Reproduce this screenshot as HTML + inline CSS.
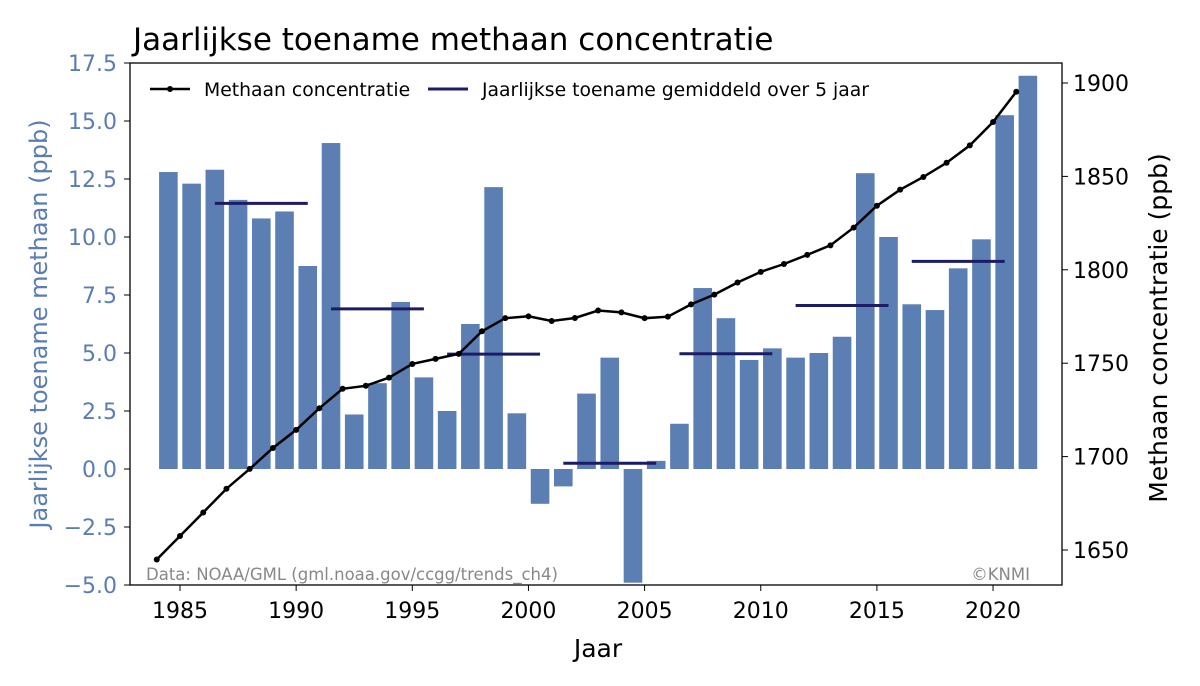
<!DOCTYPE html>
<html><head><meta charset="utf-8">
<style>
html,body{margin:0;padding:0;background:#fff;}
svg{display:block;font-family:"DejaVu Sans","Liberation Sans",sans-serif;}
</style></head>
<body>
<svg id="c" width="1200" height="686" viewBox="0 0 1200 686" xmlns="http://www.w3.org/2000/svg">
<rect width="1200" height="686" fill="#fff"/>
<text x="133" y="50" font-size="31" fill="#000">Jaarlijkse toename methaan concentratie</text>
<g id="g"></g>
<rect x="130" y="63" width="932" height="522" fill="none" stroke="#000" stroke-width="1.3"/>
<text x="146" y="580" font-size="16.5" fill="#888">Data: NOAA/GML (gml.noaa.gov/ccgg/trends_ch4)</text>
<text x="1030" y="580" font-size="16.5" fill="#888" text-anchor="end">©KNMI</text>
<text x="598" y="657" font-size="25" text-anchor="middle">Jaar</text>
<text transform="translate(47,324) rotate(-90)" font-size="24" fill="#5a7db3" text-anchor="middle">Jaarlijkse toename methaan (ppb)</text>
<text transform="translate(1167,328) rotate(-90)" font-size="25" text-anchor="middle">Methaan concentratie (ppb)</text>
<line x1="150" y1="89" x2="190" y2="89" stroke="#000" stroke-width="2.5"/>
<circle cx="170" cy="89" r="3" fill="#000"/>
<text x="204" y="96" font-size="18.8">Methaan concentratie</text>
<line x1="428" y1="89" x2="468" y2="89" stroke="#1c1c66" stroke-width="3"/>
<text x="482" y="96" font-size="18.8">Jaarlijkse toename gemiddeld over 5 jaar</text>
</svg>
<script>
var g=document.getElementById('g'),s='';
function X(yr){return 180+(yr-1985)*23.23;}
function YL(v){return 469-v*23.2;}
function YR(v){return 550-(v-1650)*1.868;}
var bars=[12.8,12.3,12.9,11.6,10.8,11.1,8.75,14.05,2.35,3.7,7.2,3.95,2.5,6.25,12.15,2.4,-1.5,-0.75,3.25,4.8,-4.9,0.35,1.95,7.8,6.5,4.7,5.2,4.8,5.0,5.7,12.75,10.0,7.1,6.85,8.65,9.9,15.25,16.95];
bars.forEach(function(v,i){var cx=X(1984.5+i),y0=YL(0),y1=YL(v);
s+='<rect x="'+(cx-9.3)+'" y="'+Math.min(y0,y1)+'" width="18.6" height="'+Math.abs(y1-y0)+'" fill="#5b7fb3"/>';});
var av=[[1986.5,11.45],[1991.5,6.9],[1996.5,4.95],[2001.5,0.25],[2006.5,4.97],[2011.5,7.05],[2016.5,8.95]];
av.forEach(function(a){s+='<line x1="'+X(a[0])+'" x2="'+X(a[0]+4)+'" y1="'+YL(a[1])+'" y2="'+YL(a[1])+'" stroke="#1c1c66" stroke-width="3"/>';});
var ch=[1644.9,1657.5,1670.1,1682.8,1693.4,1704.6,1714.3,1725.9,1736.3,1737.9,1742.3,1749.6,1752.3,1755.0,1767.1,1774.1,1775.1,1772.6,1774.2,1778.2,1777.2,1774.1,1774.9,1781.5,1786.7,1793.2,1798.9,1803.1,1808.0,1813.1,1822.6,1834.3,1842.9,1849.7,1857.3,1866.6,1879.1,1895.3];
var p=ch.map(function(v,i){return X(1984+i)+','+YR(v);}).join(' ');
s+='<polyline points="'+p+'" fill="none" stroke="#000" stroke-width="2.5"/>';
ch.forEach(function(v,i){s+='<circle cx="'+X(1984+i)+'" cy="'+YR(v)+'" r="3" fill="#000"/>';});
for(var v=-5;v<=17.5;v+=2.5){var y=YL(v);s+='<line x1="124" x2="130" y1="'+y+'" y2="'+y+'" stroke="#000"/><text x="117" y="'+(y+8)+'" font-size="22" fill="#5a7db3" text-anchor="end">'+(v<0?'\u2212'+(-v).toFixed(1):v.toFixed(1))+'</text>';}
for(var r=1650;r<=1900;r+=50){var y=YR(r);s+='<line x1="1062" x2="1068" y1="'+y+'" y2="'+y+'" stroke="#000"/><text x="1073" y="'+(y+8)+'" font-size="22">'+r+'</text>';}
for(var yr=1985;yr<=2020;yr+=5){var x=X(yr);s+='<line x1="'+x+'" x2="'+x+'" y1="585" y2="591" stroke="#000"/><text x="'+x+'" y="618" font-size="22" text-anchor="middle">'+yr+'</text>';}
g.innerHTML=s;
</script>
</body></html>
